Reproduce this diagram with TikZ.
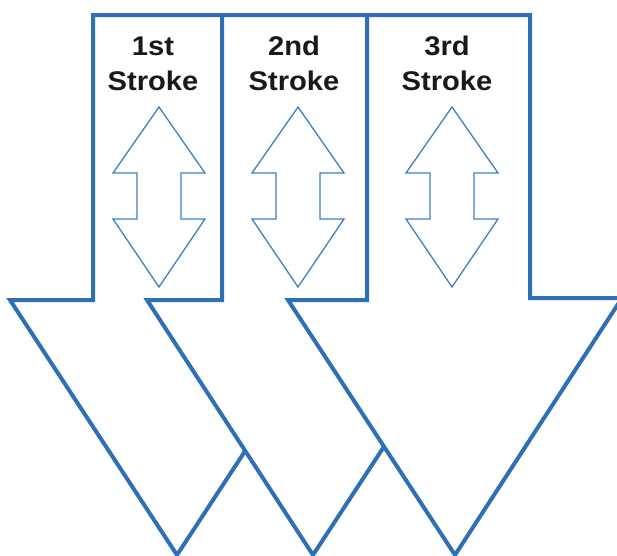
\documentclass[tikz,border=0pt]{standalone}
\usepackage{fontspec}
\setmainfont{Liberation Sans}
\newfontfamily\labelfont[FakeStretch=1.08]{Liberation Sans}
\definecolor{bigblue}{RGB}{46,112,182}
\definecolor{thinblue}{RGB}{62,128,196}
\begin{document}
\begin{tikzpicture}[x=1pt,y=-1pt,
  bigarrow/.style={draw=bigblue,line width=4pt,fill=white,line join=miter},
  thinarrow/.style={draw=thinblue,line width=1.3pt,fill=white,line join=miter},
  lbl/.style={font=\labelfont\bfseries\fontsize{27}{32}\selectfont,anchor=base,inner sep=0pt,text=black!90}]
\useasboundingbox (0,0) rectangle (617,555);
\begin{scope}
\clip (0,0) rectangle (617,555);
% arrow 1
\draw[bigarrow] (93,15) -- (222,15) -- (222,300) -- (344,300) -- (177,555) -- (10,300) -- (93,300) -- cycle;
% arrow 2
\draw[bigarrow] (222,15) -- (367,15) -- (367,300) -- (480,300) -- (313,555) -- (147,300) -- (222,300) -- cycle;
% arrow 3
\draw[bigarrow] (367,15) -- (530,15) -- (530,298) -- (622,298) -- (455,555) -- (288,300) -- (367,300) -- cycle;
\end{scope}
% small double arrows
\foreach \c in {159,298,452}{
  \draw[thinarrow] (\c,107) -- ++(46,66) -- ++(-24,0) -- ++(0,46) -- ++(24,0)
    -- (\c,287) -- ++(-46,-68) -- ++(24,0) -- ++(0,-46) -- ++(-24,0) -- cycle;
}
% labels
\node[lbl] (l1a) at (153,55) {1st};
\node[lbl] (l1b) at (153,90) {Stroke};
\node[lbl] (l2a) at (294,55) {2nd};
\node[lbl] (l2b) at (294,90) {Stroke};
\node[lbl] (l3a) at (447,55) {3rd};
\node[lbl] (l3b) at (447,90) {Stroke};
\end{tikzpicture}
\end{document}
